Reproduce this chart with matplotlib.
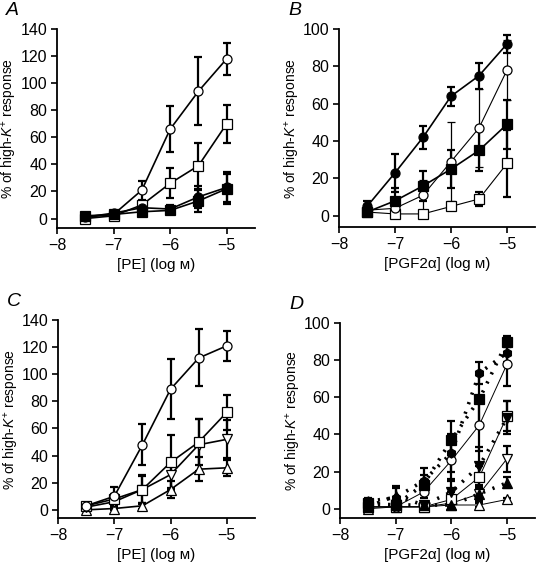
import matplotlib
matplotlib.use('Agg')
import matplotlib.pyplot as plt
import numpy as np

plt.rcParams['font.family'] = ['Liberation Sans', 'DejaVu Sans']
plt.rcParams['mathtext.fontset'] = 'custom'
plt.rcParams['mathtext.rm'] = 'Liberation Sans'
plt.rcParams['mathtext.it'] = 'Liberation Sans:italic'

# log concentration (M)
conc = [-7.5, -7.0, -6.5, -6.0, -5.5, -5.0]

# panel A: PE
a_open_circle = [1, 3, 21, 66, 94, 118]
a_open_circle_err = [1, 1, 7, 17, 25, 12]
a_open_square = [0, 2, 10, 26, 39, 70]
a_open_square_err = [1, 1, 3, 11, 17, 14]
a_filled_circle = [1, 4, 8, 7, 16, 23]
a_filled_circle_err = [1, 1, 3, 3, 8, 11]
a_filled_square = [2, 3, 5, 6, 13, 22]
a_filled_square_err = [1, 1, 2, 2, 8, 11]

# panel B: PGF2a
b_filled_circle = [5, 23, 42, 64, 75, 92]
b_filled_circle_err = [3, 10, 6, 5, 7, 5]
b_open_circle = [3, 4, 11, 29, 47, 78]
b_open_circle_err = [2, 3, 8, 21, 21, 16]
b_filled_square = [2, 8, 16, 25, 35, 49]
b_filled_square_err = [1, 7, 8, 10, 11, 13]
b_open_square = [2, 1, 1, 5, 9, 28]
b_open_square_err = [1, 1, 1, 2, 4, 18]

# panel C: PE
c_open_circle = [3, 10, 48, 89, 112, 121]
c_open_circle_err = [2, 7, 15, 22, 21, 11]
c_open_square = [3, 8, 15, 35, 50, 72]
c_open_square_err = [2, 4, 11, 20, 17, 13]
c_open_down = [2, 6, 15, 26, 48, 52]
c_open_down_err = [1, 3, 10, 10, 19, 14]
c_open_up = [0, 1, 3, 15, 30, 31]
c_open_up_err = [1, 1, 2, 6, 9, 6]

# panel D: PGF2a
d_open_circle = [1, 1, 9, 26, 45, 78]
d_open_circle_err = [1, 1, 3, 10, 14, 12]
d_open_square = [1, 1, 1, 5, 17, 50]
d_open_square_err = [1, 1, 1, 4, 6, 8]
d_open_down = [1, 1, 1, 3, 8, 27]
d_open_down_err = [1, 1, 1, 3, 4, 7]
d_open_up = [0, 1, 1, 2, 2, 5]
d_open_up_err = [1, 1, 1, 1, 1, 1]
d_filled_circle = [4, 6, 15, 30, 73, 84]
d_filled_circle_err = [2, 5, 7, 10, 6, 5]
d_filled_square = [3, 2, 13, 37, 59, 90]
d_filled_square_err = [2, 1, 5, 10, 14, 3]
d_filled_down = [2, 2, 2, 9, 23, 49]
d_filled_down_err = [1, 1, 1, 6, 10, 9]
d_filled_up = [1, 7, 2, 2, 8, 14]
d_filled_up_err = [1, 5, 1, 2, 3, 3]


def series(ax, y, err, marker, filled, ls='-', lw=1.2, elw=1.6, ms=6.5):
    face = 'black' if filled else 'white'
    ax.errorbar(conc, y, yerr=err, fmt='none', ecolor='black',
                elinewidth=elw, capsize=3, capthick=elw, zorder=2)
    ax.plot(conc, y, color='black', linestyle=ls, linewidth=lw, zorder=3)
    ax.plot(conc, y, linestyle='none', marker=marker, markersize=ms,
            markerfacecolor=face, markeredgecolor='black',
            markeredgewidth=0.9, zorder=4)


def style(ax, ymax, ystep, ylow, xlabel, letter):
    ax.set_xlim(-8, -4.5)
    ax.set_ylim(ylow, ymax)
    ax.set_xticks([-8, -7, -6, -5])
    ax.set_xticklabels(['\u22128', '\u22127', '\u22126', '\u22125'])
    ax.set_yticks(np.arange(0, ymax + 1, ystep))
    for s in ['top', 'right']:
        ax.spines[s].set_visible(False)
    for s in ['left', 'bottom']:
        ax.spines[s].set_linewidth(1.3)
    ax.tick_params(direction='out', length=4, width=1.2, labelsize=11.5, pad=3)
    ax.set_xlabel(xlabel, fontsize=11)
    ax.set_ylabel('% of high-$\\mathit{K}^{+}$ response', fontsize=10)
    ax.yaxis.set_label_coords(-0.19, 0.5)
    ax.text(-0.26, 1.095, letter, transform=ax.transAxes, fontsize=14,
            fontstyle='italic', va='center', ha='left')


fig = plt.figure(figsize=(5.38, 5.62), dpi=100)
W, H = 538.0, 562.0
axA = fig.add_axes([57 / W, 1 - 228 / H, 198 / W, 199 / H])
axB = fig.add_axes([339 / W, 1 - 227 / H, 196 / W, 198 / H])
axC = fig.add_axes([58 / W, 1 - 518 / H, 197 / W, 198 / H])
axD = fig.add_axes([340 / W, 1 - 518 / H, 195 / W, 195 / H])

# A
series(axA, a_open_circle, a_open_circle_err, 'o', False)
series(axA, a_open_square, a_open_square_err, 's', False)
series(axA, a_filled_square, a_filled_square_err, 's', True)
series(axA, a_filled_circle, a_filled_circle_err, 'o', True)
style(axA, 140, 20, -7, '[PE] (log \u1d0d)', 'A')

# B
series(axB, b_open_square, b_open_square_err, 's', False, lw=0.8)
series(axB, b_open_circle, b_open_circle_err, 'o', False, lw=0.8, elw=0.9)
series(axB, b_filled_square, b_filled_square_err, 's', True)
series(axB, b_filled_circle, b_filled_circle_err, 'o', True)
style(axB, 100, 20, -6, '[PGF2\u03b1] (log \u1d0d)', 'B')

# C
series(axC, c_open_up, c_open_up_err, '^', False)
series(axC, c_open_down, c_open_down_err, 'v', False)
series(axC, c_open_square, c_open_square_err, 's', False)
series(axC, c_open_circle, c_open_circle_err, 'o', False)
style(axC, 140, 20, -6, '[PE] (log \u1d0d)', 'C')

# D
dot = (0, (0.6, 2.2))
series(axD, d_open_up, d_open_up_err, '^', False, lw=0.7)
series(axD, d_open_down, d_open_down_err, 'v', False, lw=0.7)
series(axD, d_open_square, d_open_square_err, 's', False, lw=0.7)
series(axD, d_open_circle, d_open_circle_err, 'o', False, lw=0.7)
series(axD, d_filled_up, d_filled_up_err, '^', True, ls=dot, lw=2.6)
series(axD, d_filled_down, d_filled_down_err, 'v', True, ls=dot, lw=2.6)
series(axD, d_filled_square, d_filled_square_err, 's', True, ls=dot, lw=2.6)
series(axD, d_filled_circle, d_filled_circle_err, 'h', True, ls=dot, lw=2.6)
style(axD, 100, 20, -5, '[PGF2\u03b1] (log \u1d0d)', 'D')

fig.savefig('out.png', dpi=100)
